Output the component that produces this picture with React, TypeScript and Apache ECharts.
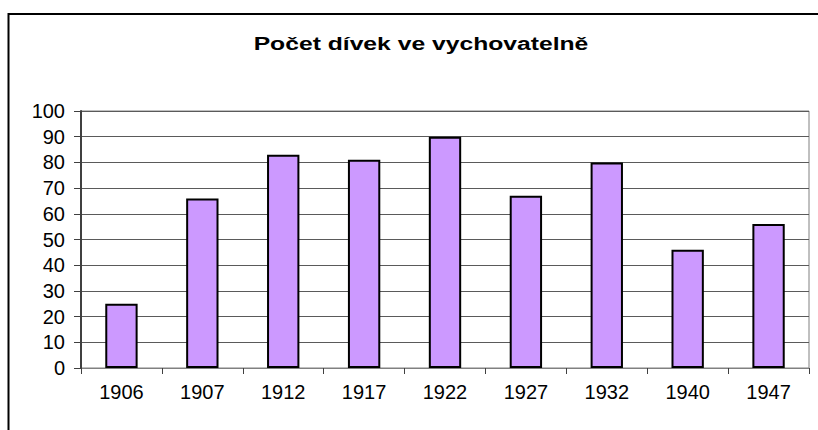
import React, { useEffect, useRef } from "react";
import * as echarts from "echarts";

const categories = ["1906", "1907", "1912", "1917", "1922", "1927", "1932", "1940", "1947"];
const values = [25, 66, 83, 81, 90, 67, 80, 46, 56];
const titleText = "Počet dívek ve vychovatelně";

const FONT = "Arial, 'Liberation Sans', sans-serif";

export default function App() {
  const ref = useRef<HTMLDivElement>(null);
  useEffect(() => {
    if (!ref.current) return;
    const chart = echarts.init(ref.current, undefined, { renderer: "svg" });
    chart.setOption({
      animation: false,
      backgroundColor: "#ffffff",
      graphic: [
        {
          type: "rect",
          shape: { x: 8.5, y: 14, width: 1000, height: 1000 },
          style: { fill: "none", stroke: "#000000", lineWidth: 2 },
          silent: true,
        },
        {
          type: "text",
          x: 421,
          y: 34,
          scaleX: 1.3,
          style: {
            text: titleText,
            fontFamily: FONT,
            fontWeight: "bold",
            fontSize: 19,
            fill: "#000000",
            textAlign: "center",
            textVerticalAlign: "top",
          },
        },
      ],
      grid: {
        left: 81,
        right: 9,
        top: 111,
        bottom: 62,
        show: true,
        borderColor: "#808080",
        borderWidth: 1,
      },
      xAxis: {
        type: "category",
        data: categories,
        axisLine: { lineStyle: { color: "#808080", width: 1 } },
        axisTick: { show: true, length: 6, lineStyle: { color: "#404040" } },
        axisLabel: {
          fontFamily: FONT,
          fontSize: 20,
          color: "#000000",
          margin: 14,
        },
      },
      yAxis: {
        type: "value",
        min: 0,
        max: 100,
        interval: 10,
        axisLine: { show: true, lineStyle: { color: "#404040", width: 2 } },
        axisTick: { show: true, length: 7, lineStyle: { color: "#404040" } },
        splitLine: { show: true, lineStyle: { color: "#5a5a5a", width: 1 } },
        axisLabel: {
          fontFamily: FONT,
          fontSize: 20,
          color: "#000000",
          margin: 16,
        },
      },
      series: [
        {
          type: "bar",
          data: values,
          barWidth: "40%",
          itemStyle: { color: "#CC99FF", borderColor: "#000000", borderWidth: 2 },
        },
      ],
    });
    return () => chart.dispose();
  }, []);
  return (
    <div
      ref={ref}
      style={{ position: "absolute", left: 0, top: 0, width: 818, height: 430 }}
    />
  );
}
